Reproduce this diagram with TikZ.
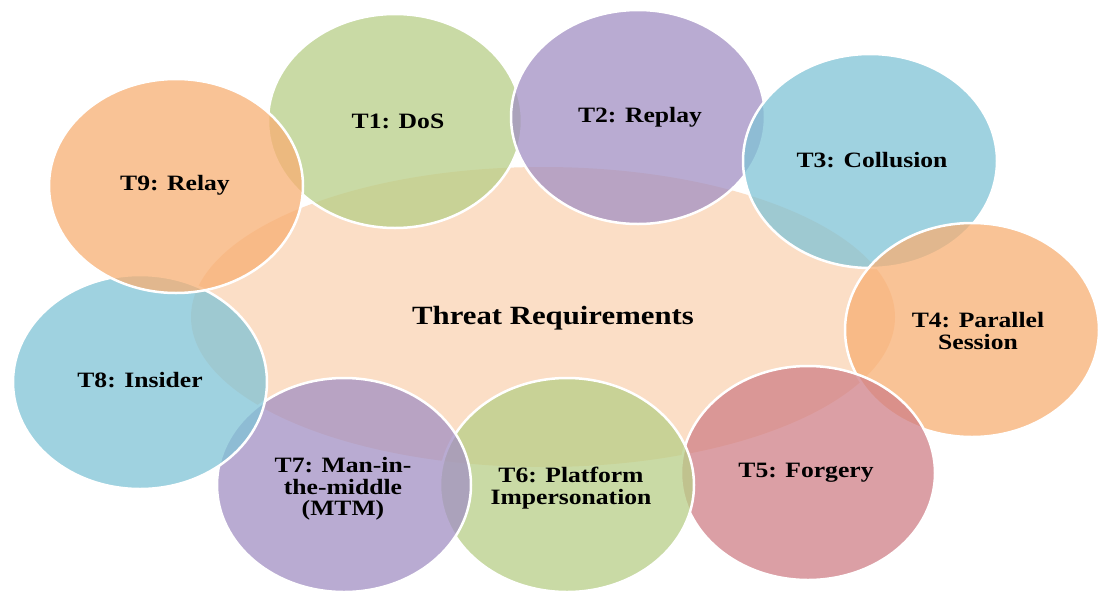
\documentclass[tikz,border=0pt]{standalone}
\usepackage{fontspec}
\setmainfont{Liberation Serif}[FakeStretch=1.17]
\usetikzlibrary{shapes.geometric}

% palette
\definecolor{corefill}{RGB}{251,222,198}
\definecolor{greenfill}{RGB}{184,206,135}
\definecolor{purplefill}{RGB}{162,144,195}
\definecolor{bluefill}{RGB}{128,195,214}
\definecolor{orangefill}{RGB}{248,175,115}
\definecolor{redfill}{RGB}{208,128,135}

\begin{document}
\begin{tikzpicture}[x=1pt,y=-1pt,
  bubble/.style={ellipse, minimum width=254pt, minimum height=214pt,
    inner sep=0pt, draw=white, line width=2.5pt,
    fill opacity=0.75, draw opacity=1, text opacity=1,
    text=black, align=center,
    font=\bfseries\fontsize{21.9}{21.5}\selectfont},
  label text/.style={inner sep=0pt, text=black, align=center,
    font=\bfseries\fontsize{21.9}{21.5}\selectfont},
]
\useasboundingbox (0,0) rectangle (1098,592);
\fill[white] (0,0) rectangle (1098,592);

% central ellipse
\node[ellipse, minimum width=704pt, minimum height=300pt, inner sep=0pt,
      fill=corefill] (core) at (543,317) {};
\node[inner sep=0pt, font=\bfseries\fontsize{26.3}{28}\selectfont]
      (title) at (553,318) {Threat Requirements};

% surrounding threats, each one laid over the previous
\node[bubble, fill=greenfill]  (t1) at (395,121) {};
\node[bubble, fill=purplefill] (t2) at (638,117) {};
\node[bubble, fill=bluefill]   (t3) at (870,161) {};
\node[bubble, fill=orangefill] (t4) at (972,330) {};
\node[bubble, fill=redfill]    (t5) at (808,473) {};
\node[bubble, fill=greenfill]  (t6) at (567,485) {};
\node[bubble, fill=purplefill] (t7) at (344,485) {};
\node[bubble, fill=bluefill]   (t8) at (140,382) {};
\node[bubble, fill=orangefill] (t9) at (176,186) {};

% labels
\node[label text] (l1) at (398,121) {T1: DoS};
\node[label text] (l2) at (640,117) {T2: Replay};
\node[label text] (l3) at (872,160) {T3: Collusion};
\node[label text] (l4) at (978,331) {T4: Parallel\\Session};
\node[label text] (l5) at (806,473) {T5: Forgery};
\node[label text] (l6) at (571,488) {T6: Platform\\Impersonation};
\node[label text] (l7) at (343,489) {T7: Man-in-\\the-middle\\(MTM)};
\node[label text] (l8) at (140,380) {T8: Insider};
\node[label text] (l9) at (175,185) {T9: Relay};
\end{tikzpicture}
\end{document}
